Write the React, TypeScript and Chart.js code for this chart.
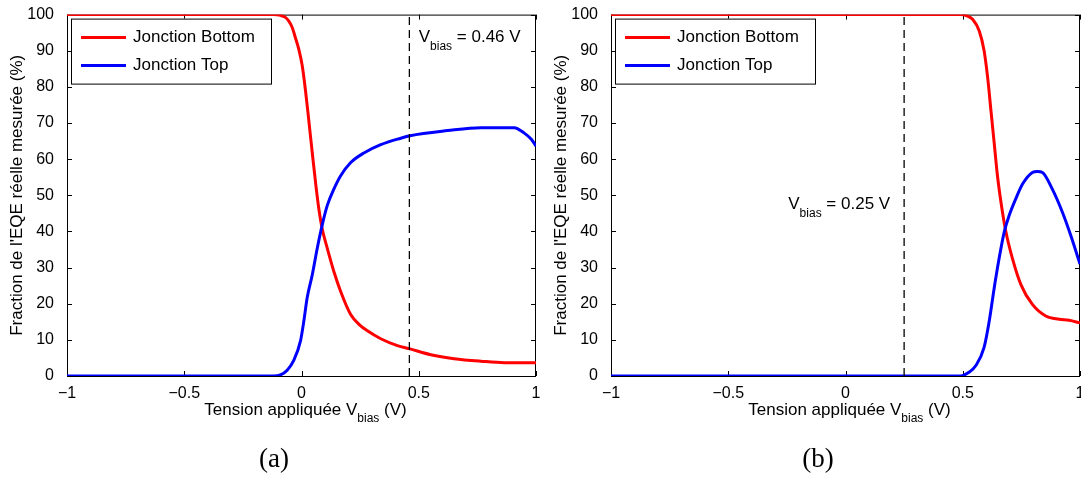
import React, { useEffect, useRef } from 'react';
import { Chart, registerables } from 'chart.js';

Chart.register(...registerables);

const SANS = "'Liberation Sans', Arial, Helvetica, sans-serif";
const SERIF = "'Liberation Serif', 'Times New Roman', serif";

// ---------- Data ----------
const seriesLabels = ['Jonction Bottom', 'Jonction Top'];
const seriesColors = ['#ff0000', '#0000ff'];
const yTitle = "Fraction de l'EQE réelle mesurée (%)";

// Panel (a)
const aBottomX = [-1, -0.12, -0.09, -0.07, -0.054, -0.04, -0.026, -0.012, 0.003, 0.017, 0.031, 0.046, 0.06, 0.074, 0.088, 0.11, 0.138, 0.167, 0.209, 0.25, 0.281, 0.338, 0.409, 0.463, 0.551, 0.651, 0.765, 0.865, 1.0];
const aBottomY = [100, 100, 99.8, 99.3, 98.2, 96.5, 93.6, 90.5, 85.9, 79, 70.8, 61.7, 53.5, 46.2, 40.8, 35.3, 28.9, 23.4, 17.1, 14.0, 12.5, 10.3, 8.4, 7.5, 5.9, 4.8, 4.1, 3.7, 3.7];
const aTopX = [-1, -0.12, -0.09, -0.061, -0.033, -0.004, 0.01, 0.024, 0.046, 0.067, 0.088, 0.11, 0.138, 0.167, 0.209, 0.266, 0.338, 0.423, 0.463, 0.623, 0.765, 0.907, 0.95, 0.98, 1.0];
const aTopY = [0, 0, 0.3, 1.6, 4.3, 9.8, 15.2, 21.6, 28, 35.3, 41.7, 47.2, 51.7, 55.4, 59, 61.7, 64, 65.8, 66.5, 67.9, 68.7, 68.7, 67.2, 65.5, 63.6];
const aVbias = 0.46;
const aNoteText = ['V', 'bias', ' = 0.46 V'];
const aNoteX = 0.5;
const aNoteY = 93.7;
const aCaption = '(a)';

// Panel (b)
const bBottomX = [-1, 0.49, 0.52, 0.542, 0.57, 0.591, 0.606, 0.62, 0.634, 0.648, 0.663, 0.684, 0.712, 0.748, 0.797, 0.854, 0.911, 0.953, 1.0];
const bBottomY = [100, 100, 99.6, 98.7, 95.5, 90, 82.7, 73.6, 64.5, 55.4, 48.1, 39.9, 32.5, 25.3, 19.8, 16.6, 15.7, 15.4, 14.7];
const bTopX = [-1, 0.49, 0.528, 0.556, 0.591, 0.613, 0.634, 0.655, 0.677, 0.698, 0.726, 0.755, 0.797, 0.818, 0.84, 0.882, 0.925, 0.96, 1.0];
const bTopY = [0, 0, 1.1, 2.9, 7.9, 15.2, 24.3, 32.5, 39.9, 44.4, 49, 53.1, 56.3, 56.6, 56.3, 51.7, 45.3, 39, 31];
const bVbias = 0.25;
const bNoteText = ['V', 'bias', ' = 0.25 V'];
const bNoteX = -0.244;
const bNoteY = 47.5;
const bCaption = '(b)';

const xTitleParts = ['Tension appliquée V', 'bias', ' (V)'];
const xMin = -1, xMax = 1, xStep = 0.5;
const yMin = 0, yMax = 100, yStep = 10;

type PanelProps = {
  bottomX: number[]; bottomY: number[]; topX: number[]; topY: number[];
  vbias: number; noteText: string[]; noteX: number; noteY: number; caption: string; left: number;
};

const zip = (xs: number[], ys: number[]) => xs.map((x, i) => ({ x, y: ys[i] }));
const fmt = (v: number) => (v < 0 ? '\u2212' + Math.abs(v) : String(v));

function drawSubText(ctx: CanvasRenderingContext2D, parts: string[], x: number, y: number, align: 'left' | 'center') {
  const main = `17px ${SANS}`;
  const sub = `12px ${SANS}`;
  ctx.font = main; const w0 = ctx.measureText(parts[0]).width; const w2 = ctx.measureText(parts[2]).width;
  ctx.font = sub; const w1 = ctx.measureText(parts[1]).width;
  let sx = align === 'center' ? x - (w0 + w1 + w2) / 2 : x;
  ctx.textAlign = 'left';
  ctx.textBaseline = 'middle';
  ctx.fillStyle = '#000';
  ctx.font = main; ctx.fillText(parts[0], sx, y); sx += w0;
  ctx.font = sub; ctx.fillText(parts[1], sx, y + 9); sx += w1;
  ctx.font = main; ctx.fillText(parts[2], sx, y);
}

function Panel(p: PanelProps) {
  const ref = useRef<HTMLCanvasElement>(null);
  useEffect(() => {
    if (!ref.current) return;
    const boxPlugin = {
      id: 'boxPlugin',
      beforeDatasetsDraw(chart: any) {
        const { ctx, chartArea: ca, scales } = chart;
        const x = scales.x, y = scales.y;
        ctx.save();
        ctx.strokeStyle = '#000';
        ctx.lineWidth = 1;
        ctx.strokeRect(ca.left + 0.5, ca.top + 0.5, ca.right - ca.left - 1, ca.bottom - ca.top);
        ctx.beginPath();
        x.ticks.forEach((t: any) => {
          const px = Math.round(x.getPixelForValue(t.value)) + 0.5;
          ctx.moveTo(px, ca.bottom); ctx.lineTo(px, ca.bottom - 5);
          ctx.moveTo(px, ca.top); ctx.lineTo(px, ca.top + 5);
        });
        y.ticks.forEach((t: any) => {
          const py = Math.round(y.getPixelForValue(t.value)) + 0.5;
          ctx.moveTo(ca.left, py); ctx.lineTo(ca.left + 5, py);
          ctx.moveTo(ca.right, py); ctx.lineTo(ca.right - 5, py);
        });
        ctx.stroke();
        ctx.restore();
      },
      afterDraw(chart: any) {
        const { ctx, chartArea: ca, scales } = chart;
        const x = scales.x, y = scales.y;
        ctx.save();
        // legend
        const lx = ca.left + 4, ly = ca.top + 4;
        ctx.fillStyle = '#fff';
        ctx.fillRect(lx, ly, 200, 65);
        ctx.strokeStyle = '#000';
        ctx.lineWidth = 1;
        ctx.strokeRect(lx + 0.5, ly + 0.5, 200, 65);
        const ds = chart.data.datasets.filter((d: any) => d.label);
        ds.forEach((d: any, i: number) => {
          const yy = ca.top + 23 + i * 28;
          ctx.strokeStyle = d.borderColor;
          ctx.lineWidth = 3;
          ctx.beginPath(); ctx.moveTo(ca.left + 14, yy); ctx.lineTo(ca.left + 59, yy); ctx.stroke();
          ctx.fillStyle = '#000';
          ctx.font = `17px ${SANS}`;
          ctx.textAlign = 'left';
          ctx.textBaseline = 'middle';
          ctx.fillText(d.label, ca.left + 66, yy);
        });
        // annotation
        drawSubText(ctx, p.noteText, x.getPixelForValue(p.noteX), y.getPixelForValue(p.noteY), 'left');
        // x title
        drawSubText(ctx, xTitleParts, (ca.left + ca.right) / 2 + 4, ca.bottom + 34, 'center');
        // caption
        ctx.fillStyle = '#000';
        ctx.font = `27px ${SERIF}`;
        ctx.textAlign = 'center';
        ctx.textBaseline = 'middle';
        ctx.fillText(p.caption, 274, 460);
        ctx.restore();
      },
    };
    const chart = new Chart(ref.current, {
      type: 'line',
      data: {
        datasets: [
          {
            label: seriesLabels[0], data: zip(p.bottomX, p.bottomY), borderColor: seriesColors[0],
            borderWidth: 3, pointRadius: 0, cubicInterpolationMode: 'monotone', order: 3,
          },
          {
            label: seriesLabels[1], data: zip(p.topX, p.topY), borderColor: seriesColors[1],
            borderWidth: 3, pointRadius: 0, cubicInterpolationMode: 'monotone', order: 2,
          },
          {
            label: '', data: [{ x: p.vbias, y: yMin }, { x: p.vbias, y: yMax }], borderColor: '#000',
            borderWidth: 1.3, borderDash: [8, 5], pointRadius: 0, tension: 0, order: 1,
          },
        ],
      } as any,
      options: {
        animation: false,
        responsive: false,
        devicePixelRatio: 1,
        layout: { padding: { left: 0, top: 10, right: 8, bottom: 0 } },
        plugins: { legend: { display: false }, tooltip: { enabled: false } },
        scales: {
          x: {
            type: 'linear', min: xMin, max: xMax,
            ticks: { stepSize: xStep, callback: (v: any) => fmt(Number(v)), color: '#000', font: { size: 16, family: SANS }, padding: 0, maxRotation: 0, autoSkip: false },
            grid: { display: false },
            border: { display: false },
            afterFit: (s: any) => { s.height = 104; },
          },
          y: {
            type: 'linear', min: yMin, max: yMax,
            ticks: { stepSize: yStep, callback: (v: any) => fmt(Number(v)), color: '#000', font: { size: 16, family: SANS }, padding: 5 },
            grid: { display: false },
            border: { display: false },
            title: { display: true, text: yTitle, color: '#000', font: { size: 17, family: SANS }, padding: { top: 7, bottom: 0 } },
            afterFit: (s: any) => { s.width = 67; },
          },
        },
      } as any,
      plugins: [boxPlugin],
    });
    return () => chart.destroy();
  }, []);
  return (
    <canvas ref={ref} width={544} height={480}
      style={{ position: 'absolute', left: p.left, top: 0, width: 544, height: 480 }} />
  );
}

export default function App() {
  return (
    <div style={{ position: 'absolute', left: 0, top: 0, width: 1081, height: 480, overflow: 'hidden', background: '#fff' }}>
      <Panel bottomX={aBottomX} bottomY={aBottomY} topX={aTopX} topY={aTopY} vbias={aVbias}
        noteText={aNoteText} noteX={aNoteX} noteY={aNoteY} caption={aCaption} left={0} />
      <Panel bottomX={bBottomX} bottomY={bBottomY} topX={bTopX} topY={bTopY} vbias={bVbias}
        noteText={bNoteText} noteX={bNoteX} noteY={bNoteY} caption={bCaption} left={544} />
    </div>
  );
}
